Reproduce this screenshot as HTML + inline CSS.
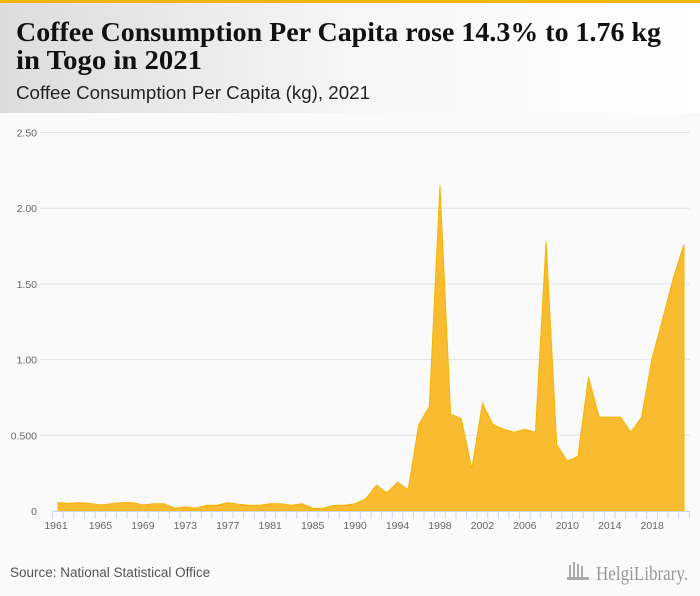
<!DOCTYPE html>
<html><head><meta charset="utf-8"><style>
html,body{margin:0;padding:0;width:700px;height:596px;overflow:hidden;background:#fafafa}
svg{display:block}
</style></head><body>
<svg id="chart" width="700" height="596" viewBox="0 0 700 596" xmlns="http://www.w3.org/2000/svg">
<defs><linearGradient id="hg" x1="0" x2="1" y1="0" y2="0"><stop offset="0" stop-color="#dcdcdc"/><stop offset="0.5" stop-color="#f6f6f6"/><stop offset="1" stop-color="#ffffff"/></linearGradient></defs>
<rect x="0" y="0" width="700" height="596" fill="#fafafa"/>
<rect x="0" y="3" width="700" height="110" fill="url(#hg)"/>
<rect x="0" y="0" width="700" height="3" fill="#f5b400"/>
<text x="16" y="41" font-family="Liberation Serif, serif" font-weight="bold" font-size="27" fill="#111" textLength="645" lengthAdjust="spacingAndGlyphs">Coffee Consumption Per Capita rose 14.3% to 1.76 kg</text>
<text x="16" y="69" font-family="Liberation Serif, serif" font-weight="bold" font-size="27" fill="#111" textLength="186" lengthAdjust="spacingAndGlyphs">in Togo in 2021</text>
<text x="16" y="99" font-family="Liberation Sans, sans-serif" font-size="18" fill="#222" textLength="354" lengthAdjust="spacingAndGlyphs">Coffee Consumption Per Capita (kg), 2021</text>
<g id="grid"></g>
<g id="area"></g>
<g id="xaxis"></g>
<text x="10" y="577" font-family="Liberation Sans, sans-serif" font-size="13.5" fill="#555">Source: National Statistical Office</text>
<g>
<rect x="569" y="565" width="2" height="14" fill="#aaa"/><rect x="573" y="562" width="2" height="17" fill="#aaa"/><rect x="577" y="564" width="2" height="15" fill="#aaa"/><rect x="581" y="566" width="2" height="13" fill="#aaa"/><rect x="567" y="577" width="22" height="3" fill="#aaa"/>
<text x="596" y="580" font-family="Liberation Serif, serif" font-size="20" fill="#999" textLength="92" lengthAdjust="spacingAndGlyphs">HelgiLibrary.</text>
</g>
</svg>
<script>
const years = ["1961","1962","1963","1964","1965","1966","1967","1968","1969","1970","1971","1972","1973","1974","1975","1976","1977","1978","1979","1980","1981","1982","1983","1984","1985","1986","1987","1988","1990","1991","1992","1993","1994","1995","1996","1997","1998","1999","2000","2001","2002","2003","2004","2005","2006","2007","2008","2009","2010","2011","2012","2013","2014","2015","2016","2017","2018","2019","2020","2021"];
const values = [0.055,0.05,0.055,0.05,0.04,0.048,0.055,0.055,0.04,0.048,0.048,0.018,0.028,0.018,0.038,0.038,0.055,0.045,0.038,0.038,0.048,0.048,0.038,0.048,0.018,0.018,0.038,0.038,0.048,0.08,0.17,0.12,0.19,0.14,0.57,0.69,2.15,0.64,0.61,0.28,0.71,0.57,0.54,0.52,0.54,0.52,1.78,0.44,0.33,0.36,0.885,0.62,0.62,0.62,0.52,0.62,1.01,1.27,1.54,1.76];
const yTicks = [0,0.5,1,1.5,2,2.5];
const yTickLabels = ["0","0.500","1.00","1.50","2.00","2.50"];
const NS="http://www.w3.org/2000/svg";
const x0=58, x1=684, yBase=511, yTop=132.5, yMax=2.5;
function xs(i){return x0+(x1-x0)*i/(years.length-1);}
function ys(v){return yBase-(yBase-yTop)*v/yMax;}
function mk(t,a){const e=document.createElementNS(NS,t);for(const k in a)e.setAttribute(k,a[k]);return e;}
const grid=document.getElementById('grid');
yTicks.forEach((t,i)=>{
  if(t>0){const l=mk('line',{x1:40,x2:690,y1:ys(t),y2:ys(t),stroke:'#e3e3e3','stroke-width':1});
  
  
  grid.appendChild(l);}
  const tx=mk('text',{x:37,y:ys(t)+4,'text-anchor':'end','font-family':'Liberation Sans, sans-serif','font-size':'10.5',fill:'#666'});
  tx.textContent=yTickLabels[i];
  
  
  grid.appendChild(tx);
});
const area=document.getElementById('area');
let d='M'+xs(0)+','+yBase;
values.forEach((v,i)=>{d+=' L'+xs(i).toFixed(2)+','+ys(v).toFixed(2);});
d+=' L'+xs(values.length-1)+','+yBase+' Z';
const p=mk('path',{d:d,fill:'#f9bc30',stroke:'#f5b400','stroke-width':1});


area.appendChild(p);
const xa=document.getElementById('xaxis');
const al=mk('line',{x1:52,x2:690,y1:yBase+0.5,y2:yBase+0.5,stroke:'#ccd6eb','stroke-width':1});


xa.appendChild(al);
const step=(x1-x0)/(years.length-1);
for(let i=-0.5;i<=years.length-0.5;i+=1){
  const tk=mk('line',{x1:xs(0)+i*step,x2:xs(0)+i*step,y1:yBase,y2:yBase+8,stroke:'#ccd6eb','stroke-width':1});
  
  
  xa.appendChild(tk);
}
years.forEach((y,i)=>{
  if(i%4!==0)return;
  const tx=mk('text',{x:i===0?56:xs(i),y:529,'text-anchor':'middle','font-family':'Liberation Sans, sans-serif','font-size':'10.5',fill:'#666'});
  tx.textContent=y;
  
  
  xa.appendChild(tx);
});
</script>
</body></html>
